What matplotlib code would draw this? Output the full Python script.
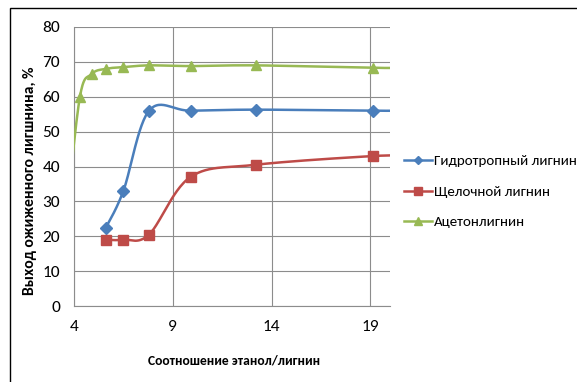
import numpy as np
import matplotlib
matplotlib.use("Agg")
import matplotlib.pyplot as plt
from matplotlib.patches import Rectangle

plt.rcParams['font.family'] = ['Carlito', 'DejaVu Sans']

# ratio ethanol/lignin
x_hydro = [5.6, 6.5, 7.8, 9.9, 13.2, 19.15, 21.0]
y_hydro = [22.3, 33.0, 56.0, 56.0, 56.3, 56.0, 56.0]

x_alk = [5.6, 6.5, 7.8, 9.9, 13.2, 19.15, 21.0]
y_alk = [19.0, 19.0, 20.5, 37.0, 40.5, 43.0, 43.0]

x_aceto = [3.6, 4.3, 4.9, 5.6, 6.5, 7.8, 9.9, 13.2, 19.15, 21.0]
y_aceto = [25.0, 60.0, 66.5, 68.0, 68.5, 69.0, 68.8, 69.0, 68.3, 68.3]

labels = ["Гидротропный лигнин", "Щелочной лигнин", "Ацетонлигнин"]
colors = ["#4A7EBB", "#BE4B48", "#98B954"]
markers = ["D", "s", "^"]
msizes = [6, 7, 7.5]

W, H = 577, 382
fig = plt.figure(figsize=(W / 100, H / 100), dpi=100)
ax = fig.add_axes([74 / W, 1 - 306 / H, (390 - 74) / W, (306 - 27) / H])

# outer frame of the picture
fig.patches.append(Rectangle((10 / W, -0.05), 1.0, (H - 8) / H + 0.05,
                             transform=fig.transFigure, fill=False,
                             edgecolor="black", linewidth=1.0))

XMIN, XMAX, YMIN, YMAX = 4, 20, 0, 80
sx = (390 - 74) / (XMAX - XMIN)
sy = (306 - 27) / (YMAX - YMIN)


def smooth(xs, ys, n=30):
    # Catmull-Rom in screen space, like Excel's smoothed lines
    p = np.column_stack([np.array(xs) * sx, np.array(ys) * sy])
    p = np.vstack([p[0], p, p[-1]])
    out = []
    for i in range(1, len(p) - 2):
        p0, p1, p2, p3 = p[i - 1], p[i], p[i + 1], p[i + 2]
        c1 = p1 + (p2 - p0) / 6
        c2 = p2 - (p3 - p1) / 6
        t = np.linspace(0, 1, n)[:, None]
        b = ((1 - t) ** 3 * p1 + 3 * (1 - t) ** 2 * t * c1
             + 3 * (1 - t) * t ** 2 * c2 + t ** 3 * p2)
        out.append(b)
    out = np.vstack(out)
    return out[:, 0] / sx, out[:, 1] / sy


series = [(x_hydro, y_hydro), (x_alk, y_alk), (x_aceto, y_aceto)]
for (xs, ys), lab, c, m, ms in zip(series, labels, colors, markers, msizes):
    cx, cy = smooth(xs, ys)
    ax.plot(cx, cy, color=c, linewidth=1.8, zorder=3)
    ax.plot(xs, ys, linestyle="none", marker=m, color=c, markersize=ms, zorder=4)
    ax.plot([], [], color=c, linewidth=1.8, marker=m, markersize=ms - 1.5, label=lab)

ax.set_xlim(XMIN, XMAX)
ax.set_ylim(YMIN, YMAX)
ax.set_xticks([4, 9, 14, 19])
ax.set_yticks(range(0, 81, 10))
ax.grid(color="#8c8c8c", linewidth=0.8)
ax.set_axisbelow(True)
for s in ["top", "right"]:
    ax.spines[s].set_visible(False)
for s in ["left", "bottom"]:
    ax.spines[s].set_color("#8c8c8c")
    ax.spines[s].set_linewidth(0.8)
ax.tick_params(length=0, labelsize=12.5, pad=10)

ax.set_xlabel("Соотношение этанол/лигнин", fontsize=9.8, fontweight="bold")
ax.xaxis.set_label_coords(0.505, -0.175)
ax.set_ylabel("Выход ожиженного лигшнина, %", fontsize=11.3, fontweight="bold")
ax.yaxis.set_label_coords(-0.117, 0.448)

ax.legend(loc="upper left", bbox_to_anchor=(1.0, 0.59), frameon=False,
          fontsize=10.8, handlelength=1.9, handletextpad=0.1, labelspacing=1.2)

plt.savefig("out.png", dpi=100)
